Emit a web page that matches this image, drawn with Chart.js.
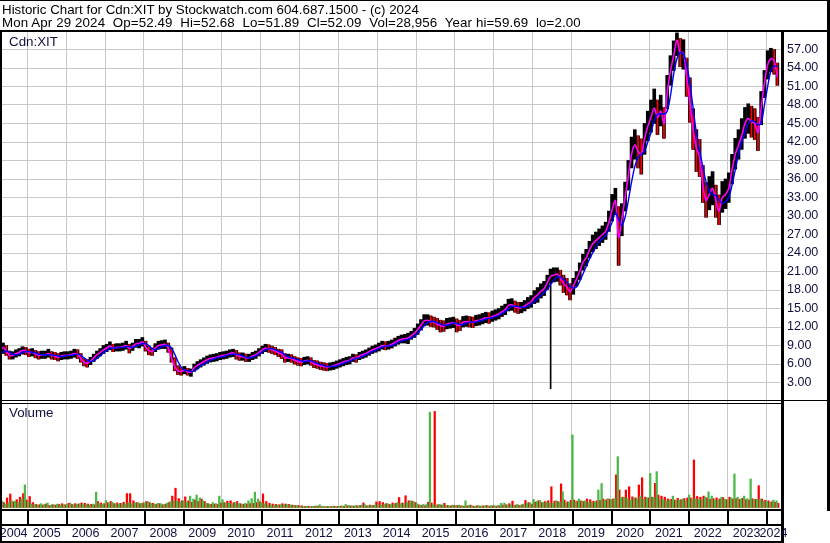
<!DOCTYPE html>
<html>
<head>
<meta charset="utf-8">
<title>Cdn:XIT</title>
<script src="https://cdn.jsdelivr.net/npm/chart.js@4.4.1/dist/chart.umd.min.js"></script>
<style>
  body { margin: 0; background: #fff; }
  #box { position: relative; width: 830px; height: 543px; overflow: hidden; background: #fff; }
  #box canvas { position: absolute; left: 0; top: 0; }
  .hdr { position: absolute; left: 2px; font: 13.33px "Liberation Sans", Arial, sans-serif; line-height: 14px; white-space: pre; color: #000; }
</style>
</head>
<body>
<div id="box">
  <canvas id="price" width="830" height="543"></canvas>
  <canvas id="vol" width="830" height="543"></canvas>
  <div class="hdr" style="top:3px">Historic Chart for Cdn:XIT by Stockwatch.com 604.687.1500 - (c) 2024</div>
  <div class="hdr" style="top:16px;letter-spacing:0.11px">Mon Apr 29 2024  Op=52.49  Hi=52.68  Lo=51.89  Cl=52.09  Vol=28,956  Year hi=59.69  lo=2.00</div>
</div>
<script>
// monthly bars, Apr 2004 .. Apr 2024
const startYear = 2004
const startMonth = 3 // April
const years = ['2004', '2005', '2006', '2007', '2008', '2009', '2010', '2011', '2012', '2013', '2014',
  '2015', '2016', '2017', '2018', '2019', '2020', '2021', '2022', '2023', '2024']

const hi = [
  8.4, 9.4, 9.0, 8.1, 8.0, 8.3, 8.5, 8.8, 8.7,
  8.4, 8.5, 8.2, 8.0, 8.1, 8.1, 8.4, 8.0, 7.9, 7.7, 7.9, 8.0,
  8.0, 8.1, 8.4, 8.3, 7.7, 6.9, 6.7, 7.1, 7.6, 8.1, 8.5, 9.0,
  9.2, 9.6, 9.2, 9.3, 9.3, 9.4, 9.7, 9.2, 9.4, 10.0, 10.0, 10.3,
  9.7, 8.9, 8.6, 9.3, 9.7, 9.8, 9.9, 9.4, 8.6, 7.0, 5.7, 5.4,
  5.6, 5.3, 5.2, 6.0, 6.4, 6.7, 7.0, 7.3, 7.5, 7.6, 7.7, 7.9,
  8.0, 8.1, 8.3, 8.4, 8.2, 7.8, 7.8, 7.6, 7.6, 7.9, 8.1, 8.5,
  8.9, 9.2, 9.1, 8.9, 8.7, 8.4, 8.3, 7.7, 7.6, 7.5, 7.2, 7.0,
  6.9, 7.1, 7.2, 7.0, 6.6, 6.5, 6.3, 6.2, 6.1, 6.2, 6.3, 6.5,
  6.7, 6.9, 7.1, 7.2, 7.6, 7.5, 7.9, 8.1, 8.3, 8.6, 8.9, 9.1,
  9.4, 9.7, 9.6, 9.7, 9.9, 10.2, 10.5, 10.7, 10.8, 11.0, 11.3, 11.8,
  12.5, 13.2, 14.0, 14.0, 13.8, 13.6, 13.4, 13.1, 13.0, 13.4, 13.5, 13.6,
  13.3, 13.1, 13.7, 13.8, 13.7, 13.6, 13.9, 14.0, 14.2, 14.4, 14.3, 14.6,
  14.8, 15.0, 15.4, 15.7, 16.5, 16.6, 16.2, 16.0, 16.0, 16.3, 16.8, 17.1,
  17.9, 18.4, 19.0, 19.4, 20.4, 21.4, 21.6, 21.6, 21.2, 20.4, 19.9, 19.0,
  19.9, 21.0, 22.4, 23.8, 24.6, 25.9, 26.9, 27.4, 27.9, 28.4, 29.0, 30.8,
  33.5, 34.5, 31.5, 32.0, 35.5, 39.0, 42.8, 44.0, 43.0, 42.5, 45.0, 47.0,
  48.8, 50.6, 48.8, 49.6, 47.6, 52.8, 56.0, 58.4, 59.7, 58.8, 58.6, 55.6,
  52.4, 47.4, 44.0, 42.4, 38.2, 35.4, 36.4, 37.2, 35.0, 33.4, 35.6, 36.0,
  37.0, 40.0, 42.6, 44.0, 45.8, 47.6, 48.2, 47.8, 47.4, 46.0, 50.2, 53.6,
  56.8, 57.2, 57.0, 54.8
]
const lo = [
  7.1, 7.7, 7.4, 6.8, 6.8, 7.1, 7.3, 7.6, 7.5,
  7.2, 7.3, 7.0, 6.8, 6.9, 6.9, 7.1, 6.8, 6.7, 6.5, 6.7, 6.8,
  6.8, 6.9, 7.1, 6.9, 6.3, 5.7, 5.5, 5.9, 6.4, 6.9, 7.3, 7.7,
  8.0, 8.3, 8.0, 8.1, 8.1, 8.2, 8.4, 7.8, 8.2, 8.7, 8.6, 8.9,
  8.1, 7.5, 7.4, 8.0, 8.4, 8.5, 8.5, 7.9, 6.3, 4.9, 4.3, 4.2,
  4.4, 4.2, 4.0, 4.8, 5.2, 5.5, 5.8, 6.1, 6.3, 6.4, 6.5, 6.7,
  6.8, 6.9, 7.1, 7.2, 6.8, 6.6, 6.6, 6.4, 6.4, 6.7, 6.9, 7.3,
  7.7, 8.0, 7.9, 7.7, 7.5, 7.2, 6.9, 6.3, 6.4, 6.3, 6.0, 5.8,
  5.7, 5.9, 6.0, 5.8, 5.4, 5.3, 5.1, 5.0, 4.9, 5.0, 5.1, 5.3,
  5.5, 5.7, 5.9, 6.0, 6.4, 6.3, 6.7, 6.9, 7.1, 7.4, 7.7, 7.9,
  8.1, 8.4, 8.3, 8.4, 8.6, 8.9, 9.2, 9.4, 9.4, 9.3, 10.0, 10.3,
  10.8, 11.5, 12.2, 12.3, 12.1, 12.0, 11.6, 11.2, 11.3, 11.7, 11.8, 11.9,
  11.2, 11.4, 12.0, 12.1, 12.0, 11.9, 12.2, 12.3, 12.5, 12.7, 12.6, 12.9,
  13.1, 13.3, 13.7, 14.0, 14.6, 14.7, 14.4, 14.2, 14.3, 14.6, 15.0, 15.2,
  15.8, 16.0, 16.7, 17.1, 18.1, 19.1, 19.3, 19.4, 18.8, 17.6, 17.2, 16.4,
  17.3, 18.6, 19.7, 21.2, 21.9, 23.2, 24.2, 24.7, 25.2, 25.7, 26.2, 27.5,
  29.2, 30.2, 22.0, 26.8, 30.8, 34.2, 37.8, 39.2, 37.8, 36.8, 40.0, 42.2,
  43.6, 45.0, 43.2, 44.6, 42.6, 47.4, 51.2, 53.6, 56.0, 54.2, 53.8, 49.4,
  45.2, 40.8, 37.2, 36.4, 32.2, 29.8, 31.0, 31.8, 29.8, 28.6, 30.6, 31.2,
  32.2, 35.2, 37.6, 39.2, 40.8, 42.6, 43.4, 42.8, 42.4, 40.6, 44.8, 49.2,
  52.2, 53.4, 53.0, 51.2
]
// short average (magenta)
const cl = [
  7.8, 8.7, 8.1, 7.4, 7.4, 7.7, 7.9, 8.2, 8.1,
  7.8, 7.9, 7.6, 7.4, 7.5, 7.5, 7.7, 7.4, 7.3, 7.1, 7.3, 7.4,
  7.4, 7.5, 7.7, 7.6, 6.9, 6.3, 6.1, 6.5, 7.0, 7.5, 7.9, 8.3,
  8.6, 8.9, 8.6, 8.7, 8.7, 8.8, 9.0, 8.5, 8.8, 9.3, 9.3, 9.6,
  8.8, 8.2, 8.0, 8.6, 9.0, 9.1, 9.2, 8.6, 7.0, 5.6, 4.9, 4.8,
  5.0, 4.7, 4.7, 5.4, 5.8, 6.1, 6.4, 6.7, 6.9, 7.0, 7.1, 7.3,
  7.4, 7.5, 7.7, 7.8, 7.5, 7.2, 7.2, 7.0, 7.0, 7.3, 7.5, 7.9,
  8.3, 8.6, 8.5, 8.3, 8.1, 7.8, 7.6, 7.0, 7.0, 6.9, 6.6, 6.4,
  6.3, 6.5, 6.6, 6.4, 6.0, 5.9, 5.7, 5.6, 5.5, 5.6, 5.7, 5.9,
  6.1, 6.3, 6.5, 6.6, 7.0, 6.9, 7.3, 7.5, 7.7, 8.0, 8.3, 8.5,
  8.7, 9.0, 8.9, 9.0, 9.2, 9.5, 9.8, 10.0, 10.1, 10.2, 10.6, 11.0,
  11.6, 12.3, 13.0, 13.1, 12.9, 12.8, 12.5, 12.2, 12.1, 12.5, 12.6, 12.7,
  12.4, 12.2, 12.8, 12.9, 12.8, 12.7, 13.0, 13.1, 13.3, 13.5, 13.4, 13.7,
  13.9, 14.1, 14.5, 14.8, 15.5, 15.6, 15.3, 15.1, 15.1, 15.4, 15.8, 16.1,
  16.8, 17.2, 17.8, 18.2, 19.2, 20.2, 20.4, 20.6, 20.0, 19.0, 18.5, 17.7,
  18.6, 19.8, 21.0, 22.5, 23.2, 24.5, 25.5, 26.0, 26.5, 27.0, 27.5, 29.0,
  31.0, 32.5, 26.5, 29.5, 33.0, 36.5, 40.0, 41.5, 40.5, 40.0, 42.5, 44.5,
  46.0, 47.5, 46.0, 47.0, 45.0, 50.0, 53.5, 56.0, 58.5, 56.5, 56.5, 52.5,
  48.5, 44.0, 41.0, 39.5, 35.0, 32.5, 33.5, 34.5, 32.5, 30.8, 33.0, 33.5,
  34.5, 37.5, 40.0, 41.5, 43.0, 45.0, 45.8, 45.3, 45.0, 43.5, 47.5, 51.5,
  54.5, 55.5, 55.2, 52.5
]
// long average (blue)
const ma = [
  7.7, 7.9, 8.1, 7.9, 7.6, 7.5, 7.6, 7.8, 8.0,
  8.0, 7.9, 7.8, 7.6, 7.5, 7.5, 7.5, 7.5, 7.4, 7.3, 7.2, 7.3,
  7.4, 7.4, 7.5, 7.6, 7.4, 7.0, 6.6, 6.4, 6.5, 6.9, 7.3, 7.8,
  8.2, 8.5, 8.6, 8.6, 8.7, 8.7, 8.8, 8.8, 8.7, 8.9, 9.1, 9.3,
  9.3, 9.0, 8.5, 8.3, 8.5, 8.8, 9.0, 9.0, 8.6, 7.6, 6.4, 5.5,
  5.0, 4.9, 4.8, 4.9, 5.2, 5.7, 6.0, 6.3, 6.6, 6.8, 7.0, 7.1,
  7.2, 7.4, 7.5, 7.6, 7.6, 7.5, 7.3, 7.1, 7.0, 7.1, 7.3, 7.6,
  7.9, 8.3, 8.5, 8.5, 8.3, 8.1, 7.9, 7.5, 7.2, 7.0, 6.9, 6.7,
  6.5, 6.4, 6.5, 6.5, 6.3, 6.1, 5.9, 5.8, 5.6, 5.6, 5.6, 5.7,
  5.9, 6.1, 6.3, 6.5, 6.7, 6.9, 7.0, 7.2, 7.5, 7.7, 8.0, 8.2,
  8.5, 8.7, 8.9, 8.9, 9.0, 9.2, 9.5, 9.7, 9.9, 10.0, 10.2, 10.5,
  11.0, 11.6, 12.2, 12.7, 12.9, 12.9, 12.7, 12.5, 12.3, 12.3, 12.4, 12.6,
  12.6, 12.4, 12.4, 12.6, 12.8, 12.8, 12.8, 13.0, 13.1, 13.3, 13.4, 13.5,
  13.7, 13.9, 14.2, 14.5, 14.9, 15.3, 15.4, 15.3, 15.2, 15.2, 15.4, 15.7,
  16.1, 16.6, 17.1, 17.6, 18.1, 18.9, 19.6, 20.1, 20.1, 19.8, 19.2, 18.6,
  18.3, 18.5, 19.4, 20.6, 21.8, 23.0, 24.0, 25.0, 25.8, 26.3, 26.8, 27.8,
  29.0, 30.5, 29.5, 28.5, 29.8, 32.5, 35.5, 38.0, 39.5, 40.0, 40.5, 42.0,
  43.5, 45.5, 46.5, 46.6, 46.5, 47.0, 49.5, 53.0, 55.5, 56.5, 56.3, 54.5,
  51.5, 47.5, 43.5, 40.5, 38.0, 35.5, 34.0, 33.5, 33.3, 32.6, 32.1, 32.3,
  33.0, 35.0, 37.5, 40.0, 42.0, 43.5, 45.0, 45.4, 45.3, 44.8, 45.0, 48.0,
  51.0, 53.5, 54.3, 54.2
]
// the odd print that set the year low
const oddDate = [2018.46]
const oddLo = [2.00]
const oddHi = [20.2]

// volume in thousands, up days (green) and down days (red)
const volUp = [
  120, 180, 100, 150, 200, 190, 150, 250, 640,
  180, 110, 90, 80, 120, 100, 140, 80, 90, 110, 80, 90,
  90, 140, 80, 100, 120, 90, 100, 80, 110, 440, 120, 100,
  210, 120, 160, 120, 100, 130, 110, 150, 120, 140, 150, 130,
  140, 180, 120, 110, 130, 120, 100, 140, 180, 200, 190, 170,
  200, 160, 330, 250, 360, 280, 200, 130, 110, 150, 120, 330,
  230, 140, 130, 120, 150, 120, 110, 130, 200, 260, 440, 250,
  150, 120, 90, 80, 70, 80, 90, 100, 90, 80, 70, 60,
  50, 40, 45, 40, 50, 60, 90, 50, 40, 45, 50, 40,
  50, 60, 100, 70, 60, 70, 60, 80, 90, 60, 70, 80,
  90, 80, 100, 120, 90, 110, 150, 120, 130, 150, 200, 180,
  120, 80, 100, 100, 2660, 90, 80, 100, 90, 70, 60, 80,
  60, 80, 60, 200, 70, 60, 50, 70, 60, 50, 60, 70,
  60, 70, 130, 140, 80, 90, 70, 100, 80, 110, 130, 140,
  240, 180, 210, 150, 160, 140, 130, 200, 170, 450, 150, 160,
  2030, 180, 250, 190, 200, 150, 170, 160, 500, 680, 200, 260,
  230, 260, 1425, 280, 300, 260, 220, 280, 250, 330, 240, 280,
  960, 300, 1010, 250, 230, 200, 220, 330, 210, 220, 250, 200,
  360, 250, 260, 230, 240, 300, 450, 330, 220, 230, 300, 240,
  230, 280, 944, 300, 250, 330, 260, 806, 240, 230, 250, 190,
  180, 160, 220, 200
]
const volDn = [
  180, 150, 280, 390, 170, 230, 300, 400, 220,
  320, 150, 100, 90, 80, 110, 70, 90, 80, 100, 120, 90,
  130, 100, 120, 110, 140, 130, 110, 100, 90, 180, 140, 120,
  150, 180, 120, 140, 130, 160, 400, 400, 200, 150, 120, 140,
  180, 150, 130, 100, 120, 90, 110, 150, 330, 550, 260, 200,
  310, 200, 160, 220, 180, 250, 180, 120, 100, 110, 100, 140,
  150, 190, 200, 150, 180, 120, 100, 110, 120, 130, 150, 170,
  390, 180, 130, 110, 100, 90, 120, 110, 100, 80, 70, 70,
  60, 45, 50, 40, 45, 50, 40, 35, 45, 40, 50, 45,
  50, 45, 60, 55, 50, 60, 70, 140, 60, 80, 70, 170,
  180, 150, 120, 100, 140, 130, 290, 140, 340, 200, 190, 150,
  90, 70, 60, 160, 140, 2680, 90, 80, 130, 70, 60, 70,
  70, 60, 50, 60, 80, 50, 60, 40, 60, 70, 50, 60,
  50, 60, 80, 90, 120, 190, 80, 70, 90, 210, 150, 100,
  160, 200, 150, 180, 200, 590, 190, 180, 670, 220, 170, 210,
  220, 190, 200, 180, 250, 230, 190, 200, 210, 250, 230, 240,
  250, 920, 500, 300, 500, 590, 310, 280, 640, 840, 300, 280,
  300, 685, 360, 330, 300, 250, 240, 220, 270, 230, 260, 280,
  280, 1333, 320, 300, 330, 280, 240, 260, 280, 250, 290, 230,
  300, 250, 260, 240, 270, 230, 220, 260, 240, 620, 250, 210,
  200, 170, 160, 130
]
const volTicks = [750000, 1500000, 2250000]
const volTickLabels = ['750 k', '1.5 M', '2.2 M']

const FONT = '"Liberation Sans", Arial, sans-serif'
const GRID = '#c8c8c8'
const INK = '#101040'
const NONE = 'rgba(0,0,0,0)'

const xMin = 2004.298
const xMax = 2024.385
const mx = cl.map((v, i) => startYear + (startMonth + i + 0.5) / 12)
// down months get a red streak over the black bar
const downIdx = cl.map((v, i) => i).filter(i => i > 0 && cl[i] < cl[i - 1])

const xAxis = () => ({
  type: 'linear', min: xMin, max: xMax, offset: false,
  grid: { color: GRID, drawTicks: false, offset: false },
  border: { display: false },
  ticks: { display: false, stepSize: 1, includeBounds: false },
  afterFit: s => { s.height = 0 }
})

const base = {
  responsive: false,
  animation: false,
  events: [],
  plugins: { legend: { display: false }, tooltip: { enabled: false } }
}

// frame, year strip and panel captions
const frame = {
  id: 'frame',
  afterDraw(chart) {
    const ctx = chart.ctx
    const xs = chart.scales.x
    ctx.save()
    ctx.fillStyle = '#000'
    ctx.fillRect(0, 0, 830, 1)
    ctx.fillRect(0, 30, 830, 2)
    ctx.fillRect(0, 30, 2, 513)
    ctx.fillRect(827, 0, 3, 511)
    ctx.fillRect(781, 30, 3, 513)
    ctx.fillRect(0, 400, 827, 1)
    ctx.fillRect(0, 403, 781, 1)
    ctx.fillRect(0, 509, 784, 2)
    ctx.fillRect(0, 524, 784, 2)
    ctx.fillRect(0, 541, 784, 2)
    years.forEach(y => {
      const v = +y
      if (v > xs.min && v < xs.max) {
        ctx.fillRect(Math.round(xs.getPixelForValue(v)), 511, 2, 13)
      }
    })
    ctx.fillStyle = INK
    ctx.font = '12.5px ' + FONT
    ctx.textAlign = 'center'
    ctx.textBaseline = 'middle'
    years.forEach(y => {
      const a = Math.max(+y, xs.min)
      const b = Math.min(+y + 1, xs.max)
      if (b > a) ctx.fillText(y, xs.getPixelForValue((a + b) / 2), 534)
    })
    ctx.textAlign = 'left'
    ctx.font = '13.33px ' + FONT
    ctx.fillText('Cdn:XIT', 9, 42)
    ctx.fillText('Volume', 9, 413)
    ctx.restore()
  }
}

new Chart(document.getElementById('price'), {
  type: 'bar',
  data: {
    datasets: [
      {
        type: 'bar', order: 5, grouped: false, barThickness: 3, borderWidth: 0,
        data: mx.map((t, i) => ({ x: t, y: [lo[i], hi[i]] })),
        backgroundColor: '#000000'
      },
      {
        type: 'bar', order: 4, grouped: false, barThickness: 1, borderWidth: 0,
        data: downIdx.map(i => ({ x: mx[i], y: [lo[i], hi[i]] })),
        backgroundColor: '#ff0000'
      },
      {
        type: 'bar', order: 3, grouped: false, barThickness: 1, borderWidth: 0,
        data: oddDate.map((t, i) => ({ x: t, y: [oddLo[i], oddHi[i]] })),
        backgroundColor: '#000000'
      },
      {
        type: 'line', order: 2, borderColor: '#ff00ff', borderWidth: 1.6, pointRadius: 0, tension: 0.3,
        data: mx.map((t, i) => ({ x: t, y: cl[i] }))
      },
      {
        type: 'line', order: 1, borderColor: '#0000ff', borderWidth: 1.4, pointRadius: 0, tension: 0.3,
        data: mx.map((t, i) => ({ x: t, y: ma[i] }))
      }
    ]
  },
  options: {
    ...base,
    layout: { padding: { top: 31, left: 0, right: 0, bottom: 142 } },
    scales: {
      x: xAxis(),
      y: {
        position: 'right', min: 0, max: 60,
        grid: { color: c => (c.tick && (c.tick.value === 0 || c.tick.value === 60)) ? NONE : GRID, drawTicks: false },
        border: { display: false },
        ticks: {
          stepSize: 3, autoSkip: false, padding: 6, color: INK,
          font: { family: FONT, size: 12.5 },
          callback: v => (v === 0 || v === 60) ? '' : v.toFixed(2)
        },
        afterFit: s => { s.width = 49 }
      }
    }
  }
})

new Chart(document.getElementById('vol'), {
  type: 'bar',
  data: {
    datasets: [
      { data: mx.map((t, i) => ({ x: t, y: volUp[i] * 1000 })), backgroundColor: '#4cb848', barThickness: 1.6, borderWidth: 0 },
      { data: mx.map((t, i) => ({ x: t, y: volDn[i] * 1000 })), backgroundColor: '#ff0000', barThickness: 1.6, borderWidth: 0 }
    ]
  },
  options: {
    ...base,
    layout: { padding: { top: 401, left: 0, right: 0, bottom: 35 } },
    scales: {
      x: xAxis(),
      y: {
        position: 'right', min: 0, max: 2970000,
        grid: { color: c => (c.tick && volTicks.includes(c.tick.value)) ? GRID : NONE, drawTicks: false },
        border: { display: false },
        ticks: {
          stepSize: 750000, includeBounds: false, autoSkip: false, padding: 6, color: INK,
          font: { family: FONT, size: 12.5 },
          callback: v => volTicks.includes(v) ? volTickLabels[volTicks.indexOf(v)] : ''
        },
        afterFit: s => { s.width = 49 }
      }
    }
  },
  plugins: [frame]
})
</script>
</body>
</html>
